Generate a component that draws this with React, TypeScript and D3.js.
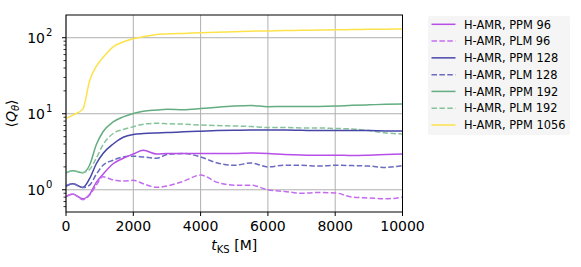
import React from "react";
import * as d3 from "d3";

// time grid [M]
const times = [0, 200, 500, 700, 900, 1100, 1400, 1700, 2000, 2300, 2700, 3000, 3500, 4000, 4500, 5000, 5500, 6000, 6500, 7000, 7500, 8000, 8500, 9000, 9500, 10000];

const ppm96 = [0.81, 0.88, 0.76, 0.87, 1.25, 1.6, 2.2, 2.6, 2.95, 3.3, 2.95, 3.0, 3.0, 3.0, 3.0, 3.0, 3.05, 3.0, 2.9, 2.86, 2.85, 2.85, 2.82, 2.85, 2.9, 2.95];
const plm96 = [0.81, 0.88, 0.74, 0.85, 1.15, 1.48, 1.35, 1.3, 1.33, 1.2, 1.08, 1.12, 1.3, 1.56, 1.25, 1.15, 1.15, 1.0, 0.95, 0.9, 0.92, 0.91, 0.8, 0.78, 0.76, 0.8];
const ppm128 = [1.12, 1.2, 1.07, 1.4, 2.2, 3.0, 4.0, 4.9, 5.35, 5.5, 5.6, 5.65, 5.8, 5.9, 6.0, 6.05, 6.1, 6.1, 6.1, 6.05, 6.0, 6.0, 6.0, 6.0, 5.95, 5.95];
const plm128 = [1.12, 1.2, 1.07, 1.15, 1.6, 2.1, 2.45, 2.7, 2.77, 2.7, 2.6, 2.9, 3.0, 2.7, 2.25, 2.1, 2.25, 2.0, 2.1, 2.1, 2.05, 2.1, 2.08, 2.05, 1.97, 2.08];
const ppm192 = [1.67, 1.78, 1.68, 2.1, 3.9, 5.8, 7.8, 9.1, 10.1, 10.8, 11.2, 11.5, 11.3, 11.7, 12.2, 12.6, 12.8, 12.4, 12.5, 12.5, 12.5, 12.6, 12.9, 13.1, 13.3, 13.4];
const plm192 = [1.67, 1.78, 1.68, 1.85, 2.6, 3.9, 5.5, 6.2, 6.75, 7.3, 7.5, 7.4, 7.3, 7.1, 7.0, 6.9, 6.8, 6.6, 6.6, 6.5, 6.5, 6.4, 6.3, 6.0, 5.6, 5.4];
const ppm1056 = [8.7, 9.6, 11.5, 27, 42, 55, 76, 88, 97, 103, 110, 112, 114, 116, 118, 120, 122, 123, 124, 125, 126, 127, 128, 129, 129.5, 130];

const labels = ["H-AMR, PPM 96", "H-AMR, PLM 96", "H-AMR, PPM 128", "H-AMR, PLM 128", "H-AMR, PPM 192", "H-AMR, PLM 192", "H-AMR, PPM 1056"];
const colors = ["#b84ee8", "#c46cee", "#4646a8", "#6a6ac0", "#63ad80", "#86c39a", "#fde24a"];
const dashed = [false, true, false, true, false, true, false];
const seriesValues = [ppm96, plm96, ppm128, plm128, ppm192, plm192, ppm1056];

const xTicks = [0, 2000, 4000, 6000, 8000, 10000];
const yMajor = [1, 10, 100];

export default function App() {
  const left = 66, right = 402.5, top = 15, bottom = 212;
  const x = d3.scaleLinear().domain([0, 10000]).range([left, right]);
  const y = d3.scaleLog().domain([0.51, 199]).range([bottom, top]);

  const line = d3.line<[number, number]>()
    .x(d => x(d[0]))
    .y(d => y(d[1]))
    .curve(d3.curveMonotoneX);

  const minor = y.ticks().filter(v => !yMajor.includes(v) && v >= 0.51 && v <= 199);
  const font = "DejaVu Sans, sans-serif";

  // draw yellow last? keep order so later series on top
  const order = [6, 4, 5, 2, 3, 0, 1];

  return (
    <svg width={581} height={267} style={{ position: "absolute", left: 0, top: 0 }} fontFamily={font}>
      <rect width={581} height={267} fill="#fff" />
      {xTicks.map(t => (
        <line key={"gx" + t} x1={x(t)} x2={x(t)} y1={top} y2={bottom} stroke="#b0b0b0" strokeWidth={1} />
      ))}
      {yMajor.map(v => (
        <line key={"gy" + v} x1={left} x2={right} y1={y(v)} y2={y(v)} stroke="#b0b0b0" strokeWidth={1} />
      ))}
      <g>
        {order.map(i => (
          <path key={labels[i]} d={line(times.map((t, k) => [t, seriesValues[i][k]] as [number, number])) || ""}
            fill="none" stroke={colors[i]} strokeWidth={1.5}
            strokeDasharray={dashed[i] ? "5.5,2.4" : undefined} />
        ))}
      </g>
      <rect x={left} y={top} width={right - left} height={bottom - top} fill="none" stroke="#000" strokeWidth={1} />
      {xTicks.map(t => (
        <g key={"tx" + t}>
          <line x1={x(t)} x2={x(t)} y1={bottom} y2={bottom + 4} stroke="#000" />
          <text x={x(t)} y={bottom + 19} fontSize={14} textAnchor="middle">{t}</text>
        </g>
      ))}
      {minor.map(v => (
        <line key={"my" + v} x1={left - 2.5} x2={left} y1={y(v)} y2={y(v)} stroke="#000" strokeWidth={0.8} />
      ))}
      {yMajor.map((v, i) => (
        <g key={"ty" + v}>
          <line x1={left - 4} x2={left} y1={y(v)} y2={y(v)} stroke="#000" />
          <text x={left - 21} y={y(v) + 5} fontSize={14} textAnchor="end">10</text>
          <text x={left - 20} y={y(v) - 2} fontSize={10} textAnchor="start">{i}</text>
        </g>
      ))}
      <text transform={`translate(16,${(top + bottom) / 2}) rotate(-90)`} fontSize={14} textAnchor="middle">
        ⟨<tspan fontStyle="italic">Q</tspan><tspan fontSize={10} dy={3} fontStyle="italic">θ</tspan><tspan dy={-3}>⟩</tspan>
      </text>
      <text x={(left + right) / 2} y={250} fontSize={14} textAnchor="middle">
        <tspan fontStyle="italic">t</tspan><tspan fontSize={10} dy={3}>KS</tspan><tspan dy={-3}> [M]</tspan>
      </text>
      <rect x={428} y={16} width={142} height={119} fill="#f5f5f5" rx={2} />
      {labels.map((lab, i) => {
        const ly = 24.3 + i * 16.78;
        return (
          <g key={"lg" + i}>
            <line x1={431.5} x2={455.5} y1={ly} y2={ly} stroke={colors[i]} strokeWidth={1.5}
              strokeDasharray={dashed[i] ? "5.5,2.4" : undefined} />
            <text x={464} y={ly + 4.2} fontSize={11.4}>{lab}</text>
          </g>
        );
      })}
    </svg>
  );
}
